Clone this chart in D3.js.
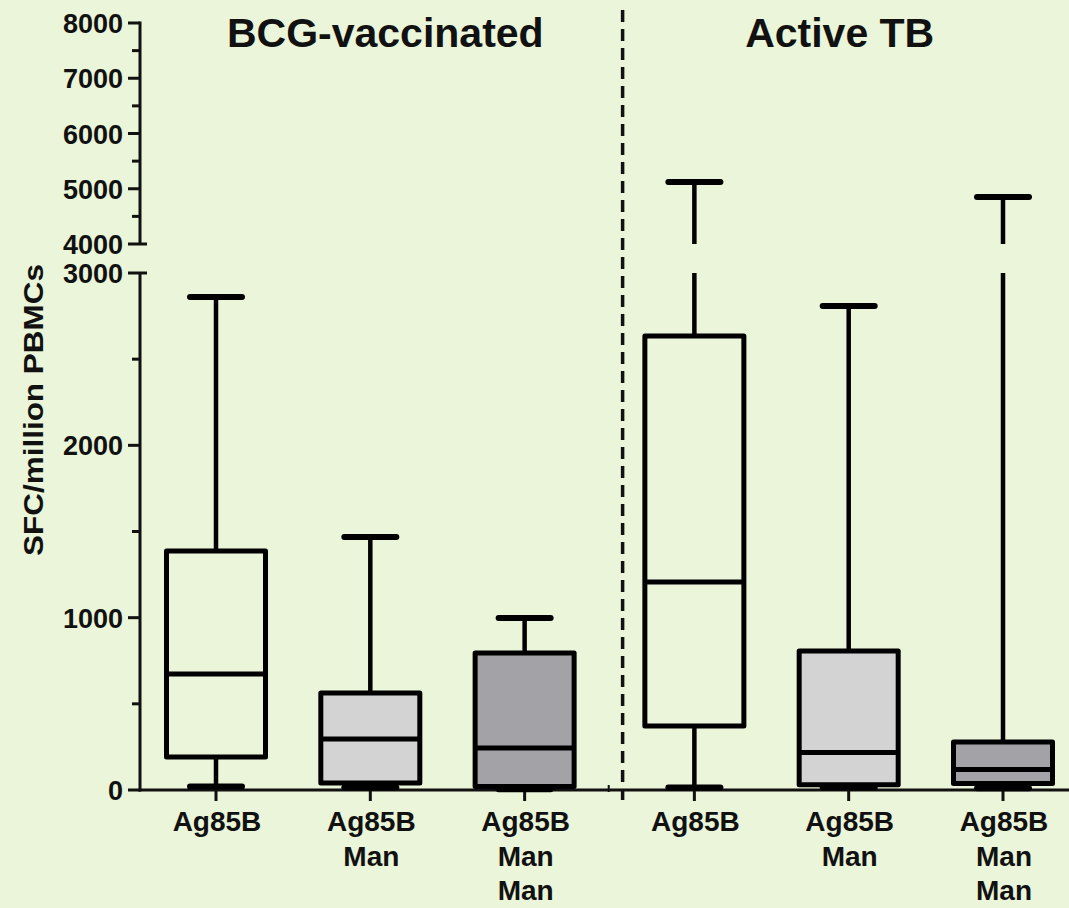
<!DOCTYPE html>
<html>
<head>
<meta charset="utf-8">
<script src="https://cdn.jsdelivr.net/npm/d3@7"></script>
<style>
  html, body { margin: 0; padding: 0; background: #eaf5d9; }
  svg { display: block; }
  text { font-family: "Liberation Sans", Arial, sans-serif; fill: #111; }
</style>
</head>
<body>
<svg id="chart" width="1069" height="908"></svg>
<script>
// ---- Data ----
const groups = ["BCG-vaccinated", "Active TB"];
const categories = ["Ag85B", "Ag85B\nMan", "Ag85B\nMan\nMan", "Ag85B", "Ag85B\nMan", "Ag85B\nMan\nMan"];
const groupIndex = [0, 0, 0, 1, 1, 1];
const fillColors = ["none", "#d3d3d3", "#a3a2a7", "none", "#d3d3d3", "#a3a2a7"];
const whiskerMin = [20, 15, 5, 15, 15, 10];
const q1 = [191, 41, 20, 371, 30, 38];
const median = [673, 296, 244, 1207, 218, 119];
const q3 = [1387, 563, 795, 2634, 807, 279];
const whiskerMax = [2861, 1468, 998, 5120, 2809, 4850];
const lowerTicks = [0, 1000, 2000, 3000];
const upperTicks = [4000, 5000, 6000, 7000, 8000];
const lowerMinor = [500, 1500, 2500];
const upperMinor = [4500, 5500, 6500, 7500];
const yTitle = "SFC/million PBMCs";

// ---- Scales ----
const svg = d3.select("#chart");
const W = 1069, H = 908;
svg.append("rect").attr("width", W).attr("height", H).attr("fill", "#eaf5d9");

const axisX = 140;
const yLow = d3.scaleLinear().domain([0, 3000]).range([790, 273]);
const yHigh = d3.scaleLinear().domain([4000, 8000]).range([244, 23]);
const y = v => (v <= 3000 ? yLow(v) : yHigh(v));

const slot = categories.map((c, i) => i + groupIndex[i] * 0.1);
const x = d3.scaleLinear().domain([0, 5.1]).range([216, 1003]);

const boxW = 99, capW = 52;

// ---- Y axis ----
const gy = svg.append("g").attr("stroke", "#111").attr("stroke-width", 3);
gy.append("line").attr("x1", axisX).attr("x2", axisX).attr("y1", yLow(0) + 1.5).attr("y2", yLow(3000));
gy.append("line").attr("x1", axisX).attr("x2", axisX).attr("y1", yHigh(4000)).attr("y2", yHigh(8000) - 1.5);
lowerTicks.forEach(t => gy.append("line").attr("x1", axisX - 12).attr("x2", t === 3000 ? axisX + 7 : axisX).attr("y1", yLow(t)).attr("y2", yLow(t)));
upperTicks.forEach(t => gy.append("line").attr("x1", axisX - 12).attr("x2", t === 4000 ? axisX + 7 : axisX).attr("y1", yHigh(t)).attr("y2", yHigh(t)));
lowerMinor.forEach(t => gy.append("line").attr("x1", axisX - 8).attr("x2", axisX).attr("y1", yLow(t)).attr("y2", yLow(t)));
upperMinor.forEach(t => gy.append("line").attr("x1", axisX - 8).attr("x2", axisX).attr("y1", yHigh(t)).attr("y2", yHigh(t)));

const tickLabels = svg.append("g").attr("font-size", 27).attr("font-weight", "bold").attr("text-anchor", "end");
lowerTicks.forEach(t => tickLabels.append("text").attr("x", axisX - 17).attr("y", yLow(t) + 10).text(t));
upperTicks.forEach(t => tickLabels.append("text").attr("x", axisX - 17).attr("y", yHigh(t) + 10).text(t));

svg.append("text")
  .attr("transform", `translate(43,410) rotate(-90)`)
  .attr("text-anchor", "middle")
  .attr("font-size", 28)
  .attr("font-weight", "bold")
  .attr("textLength", 292)
  .attr("lengthAdjust", "spacingAndGlyphs")
  .text(yTitle);

// ---- X axis ----
const gx = svg.append("g").attr("stroke", "#111").attr("stroke-width", 3);
gx.append("line").attr("x1", axisX - 1.5).attr("x2", W).attr("y1", 790).attr("y2", 790);
slot.forEach(s => gx.append("line").attr("x1", x(s)).attr("x2", x(s)).attr("y1", 790).attr("y2", 801));
gx.append("line").attr("x1", x(2.545)).attr("x2", x(2.545)).attr("y1", 785).attr("y2", 792).attr("stroke-width", 2);

// divider
const divX = x(2.635);
svg.append("line").attr("x1", divX).attr("x2", divX).attr("y1", 10).attr("y2", 800)
  .attr("stroke", "#111").attr("stroke-width", 3.5).attr("stroke-dasharray", "12,7");

// x labels
const xl = svg.append("g").attr("font-size", 28).attr("font-weight", "bold").attr("text-anchor", "middle");
categories.forEach((c, i) => {
  c.split("\n").forEach((line, k) => {
    xl.append("text").attr("x", x(slot[i]) + 1).attr("y", 831 + k * 34.5).text(line);
  });
});

// group titles
const tg = svg.append("g").attr("font-size", 41).attr("font-weight", "bold").attr("text-anchor", "middle");
tg.append("text").attr("x", x(1) + 15).attr("y", 47).text(groups[0]);
tg.append("text").attr("x", x(4.1) - 9).attr("y", 47).text(groups[1]);

// ---- Boxes ----
const gb = svg.append("g").attr("stroke", "#000").attr("fill", "none");
categories.forEach((c, i) => {
  const cx = x(slot[i]);
  if (whiskerMax[i] > 3000) {
    gb.append("line").attr("x1", cx).attr("x2", cx).attr("y1", y(q3[i])).attr("y2", yLow(3000)).attr("stroke-width", 4.5);
    gb.append("line").attr("x1", cx).attr("x2", cx).attr("y1", yHigh(4000)).attr("y2", y(whiskerMax[i])).attr("stroke-width", 4.5);
  } else {
    gb.append("line").attr("x1", cx).attr("x2", cx).attr("y1", y(q3[i])).attr("y2", y(whiskerMax[i])).attr("stroke-width", 4.5);
  }
  gb.append("line").attr("x1", cx).attr("x2", cx).attr("y1", y(q1[i])).attr("y2", y(whiskerMin[i])).attr("stroke-width", 4.5);
  gb.append("line").attr("x1", cx - capW / 2).attr("x2", cx + capW / 2).attr("y1", y(whiskerMax[i])).attr("y2", y(whiskerMax[i]))
    .attr("stroke-width", 6).attr("stroke-linecap", "round");
  gb.append("line").attr("x1", cx - capW / 2).attr("x2", cx + capW / 2).attr("y1", y(whiskerMin[i])).attr("y2", y(whiskerMin[i]))
    .attr("stroke-width", 6).attr("stroke-linecap", "round");
  gb.append("rect").attr("x", cx - boxW / 2).attr("width", boxW)
    .attr("y", y(q3[i])).attr("height", y(q1[i]) - y(q3[i]))
    .attr("fill", fillColors[i]).attr("stroke-width", 5).attr("stroke-linejoin", "round");
  gb.append("line").attr("x1", cx - boxW / 2).attr("x2", cx + boxW / 2).attr("y1", y(median[i])).attr("y2", y(median[i]))
    .attr("stroke-width", 5);
});
</script>
</body>
</html>
